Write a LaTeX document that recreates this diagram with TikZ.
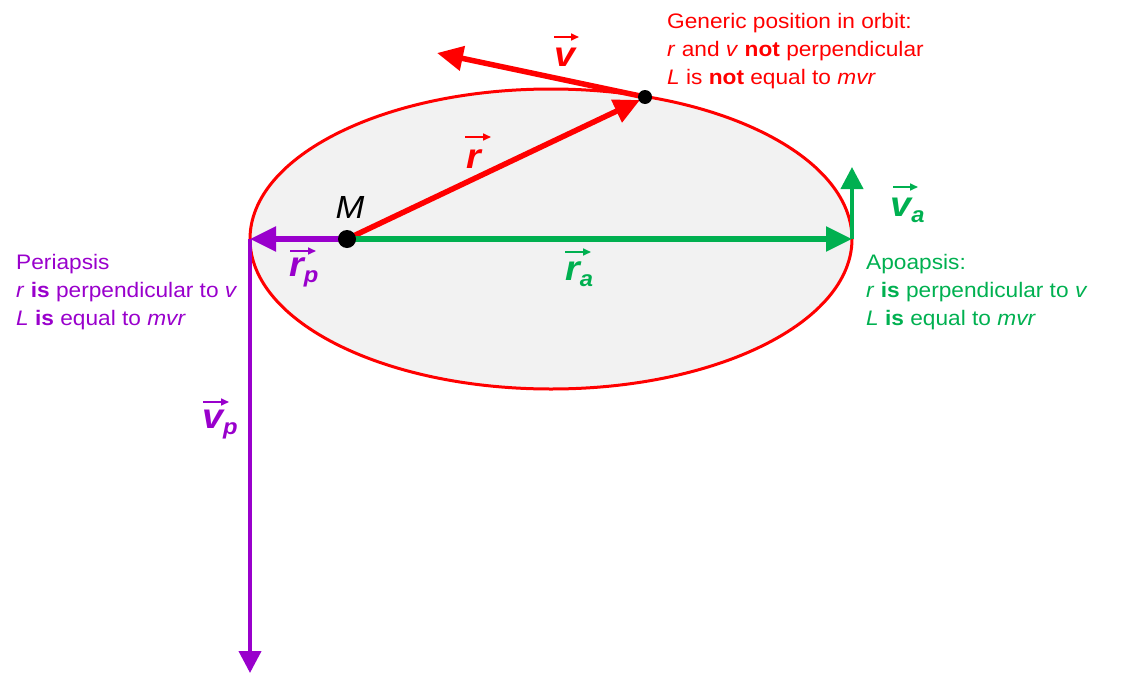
\documentclass[tikz,border=0pt]{standalone}
\usepackage{fontspec}
\setmainfont{Liberation Sans}
\usetikzlibrary{arrows.meta}
\definecolor{orbred}{RGB}{255,0,0}
\definecolor{orbgreen}{RGB}{0,176,80}
\definecolor{orbpurple}{RGB}{153,0,204}
\definecolor{orbfill}{RGB}{242,242,242}
\begin{document}
\begin{tikzpicture}[x=1pt,y=-1pt,
  bigarrow/.style={line width=5.5pt,-{Triangle[length=26pt,width=24pt]}},
  midarrow/.style={line width=4pt,-{Triangle[length=22pt,width=22pt]}},
  tinyarrow/.style={line width=1.6pt,-{Triangle[length=8pt,width=7pt]}},
  stretch/.style={xscale=1.08,transform shape},
  vlabel/.style={stretch,inner sep=0pt,font=\fontsize{35}{35}\selectfont\bfseries\itshape},
  info/.style={stretch,inner sep=0pt,align=left,anchor=north west,font=\fontsize{21}{28}\selectfont},
  dot/.style={circle,fill=black,inner sep=0pt}]
\useasboundingbox (0,0) rectangle (1127,699);
% orbit
\draw[orbred,line width=3pt,fill=orbfill] (551,239) ellipse [x radius=301,y radius=150];
% anchor points
\coordinate (Mc) at (347,239);
\coordinate (Pc) at (645,97);
\coordinate (peri) at (250,239);
\coordinate (apo) at (852,239);
\coordinate (vatip) at (852,167);
\coordinate (vptip) at (250,673);
\coordinate (vtip) at (437,53);
\coordinate (rtip) at (640,100);
% vectors
\draw[bigarrow,orbred] (Mc) -- (rtip);
\draw[bigarrow,orbred] (Pc) -- (vtip);
\draw[bigarrow,orbgreen] (Mc) -- (apo);
\draw[midarrow,orbgreen] (apo) -- (vatip);
\draw[bigarrow,orbpurple] (Mc) -- (peri);
\draw[midarrow,orbpurple] (peri) -- (vptip);
% points
\node[dot,minimum size=18pt] (M) at (Mc) {};
\node[dot,minimum size=14pt] (P) at (Pc) {};
% M label
\node[stretch,inner sep=0pt,font=\fontsize{32}{32}\selectfont\itshape] (Mlab) at (350,207) {M};
% vector labels
\node[vlabel,text=orbred] (vl) at (565,57) {v};
\draw[tinyarrow,orbred] (554,37) -- (579,37);
\node[vlabel,text=orbred] (rl) at (474,159) {r};
\draw[tinyarrow,orbred] (465,137) -- (491,137);
\node[vlabel,text=orbpurple,anchor=west] (rpl) at (289,272) {r\raisebox{-6pt}{\fontsize{22}{22}\selectfont p}};
\draw[tinyarrow,orbpurple] (290,251) -- (316,251);
\node[vlabel,text=orbgreen,anchor=west] (ral) at (565,274) {r\raisebox{-6pt}{\fontsize{22}{22}\selectfont a}};
\draw[tinyarrow,orbgreen] (565,252) -- (591,252);
\node[vlabel,text=orbgreen,anchor=west] (val) at (890,210) {v\raisebox{-6pt}{\fontsize{22}{22}\selectfont a}};
\draw[tinyarrow,orbgreen] (893,187) -- (918,187);
\node[vlabel,text=orbpurple,anchor=west] (vpl) at (202,425) {v\raisebox{-6pt}{\fontsize{22}{22}\selectfont p}};
\draw[tinyarrow,orbpurple] (203,402) -- (229,402);
% info texts
\node[info,text=orbred] (gen) at (667,13) {Generic position in orbit:\\ \textit{r} and \textit{v} \textbf{not} perpendicular\\ \textit{L} is \textbf{not} equal to \textit{mvr}};
\node[info,text=orbpurple] (peritext) at (16,254) {Periapsis\\ \textit{r} \textbf{is} perpendicular to \textit{v}\\ \textit{L} \textbf{is} equal to \textit{mvr}};
\node[info,text=orbgreen] (apotext) at (866,254) {Apoapsis:\\ \textit{r} \textbf{is} perpendicular to \textit{v}\\ \textit{L} \textbf{is} equal to \textit{mvr}};
\end{tikzpicture}
\end{document}
